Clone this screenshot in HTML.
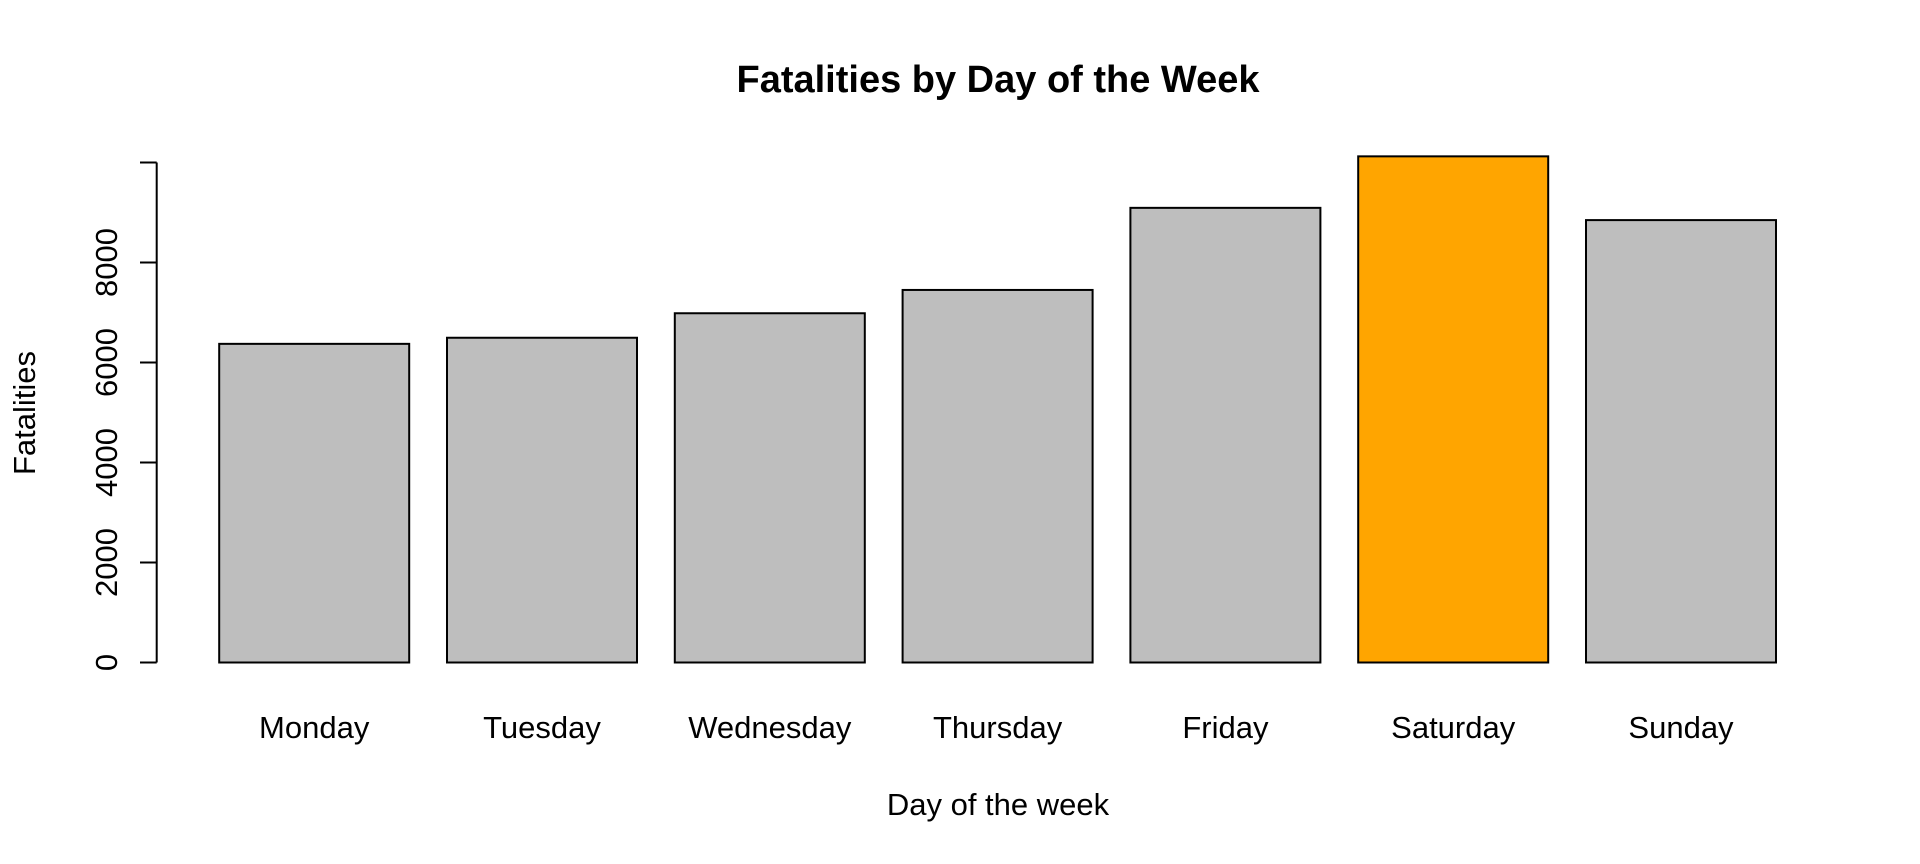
<!DOCTYPE html>
<html><head><meta charset="utf-8"><style>
html,body{margin:0;padding:0;background:#fff;}
svg{display:block;font-family:"Liberation Sans",Arial,sans-serif;}
</style></head><body>
<svg id="chart" width="1920" height="864" viewBox="0 0 1920 864">
<text x="998" y="92" text-anchor="middle" font-size="38" font-weight="bold">Fatalities by Day of the Week</text>
<text x="998" y="815" text-anchor="middle" font-size="31">Day of the week</text>
<text transform="translate(35,413) rotate(-90)" text-anchor="middle" font-size="31">Fatalities</text>
<g id="yaxis"></g>
<g id="bars"></g>
<g id="xlabels"></g>
</svg>
<script>
const categories = ["Monday","Tuesday","Wednesday","Thursday","Friday","Saturday","Sunday"];
const values = [6373, 6495, 6985, 7451, 9093, 10123, 8848];
const barColors = ["#bebebe","#bebebe","#bebebe","#bebebe","#bebebe","#ffa500","#bebebe"];
const yTicks = [0, 2000, 4000, 6000, 8000, 10000];
const yTickLabels = ["0","2000","4000","6000","8000",""];

const NS = "http://www.w3.org/2000/svg";
const y0 = 662.5, pxPerUnit = 0.05;
function yScale(v){ return y0 - v * pxPerUnit; }
const barLeft0 = 219.2, step = 227.8, barW = 190;
function xScale(i){ return barLeft0 + i * step; }

const yaxis = document.getElementById('yaxis');
const axisLine = document.createElementNS(NS,'line');
axisLine.setAttribute('x1',156.7); axisLine.setAttribute('x2',156.7);
axisLine.setAttribute('y1',yScale(yTicks[0])); axisLine.setAttribute('y2',yScale(yTicks[yTicks.length-1]));
axisLine.setAttribute('stroke','#000'); axisLine.setAttribute('stroke-width','2');


yaxis.appendChild(axisLine);
yTicks.forEach((t,i)=>{
  const y = yScale(t);
  const tk = document.createElementNS(NS,'line');
  tk.setAttribute('x1',140); tk.setAttribute('x2',156.7);
  tk.setAttribute('y1',y); tk.setAttribute('y2',y);
  tk.setAttribute('stroke','#000'); tk.setAttribute('stroke-width','2');
  
  
  yaxis.appendChild(tk);
  if (yTickLabels[i]) {
    const tx = document.createElementNS(NS,'text');
    tx.setAttribute('transform','translate(117,'+y+') rotate(-90)');
    tx.setAttribute('text-anchor','middle');
    tx.setAttribute('font-size','31');
    tx.textContent = yTickLabels[i];
    
    
    yaxis.appendChild(tx);
  }
});

const bars = document.getElementById('bars');
const xl = document.getElementById('xlabels');
categories.forEach((c,i)=>{
  const r = document.createElementNS(NS,'rect');
  const top = yScale(values[i]);
  r.setAttribute('x',xScale(i)); r.setAttribute('y',top);
  r.setAttribute('width',barW); r.setAttribute('height',y0-top);
  r.setAttribute('fill',barColors[i]); r.setAttribute('stroke','#000'); r.setAttribute('stroke-width','2');
  
  
  bars.appendChild(r);
  const t = document.createElementNS(NS,'text');
  t.setAttribute('x',xScale(i)+barW/2); t.setAttribute('y',738);
  t.setAttribute('text-anchor','middle'); t.setAttribute('font-size','31');
  t.textContent = c;
  
  
  xl.appendChild(t);
});
</script>
</body></html>
